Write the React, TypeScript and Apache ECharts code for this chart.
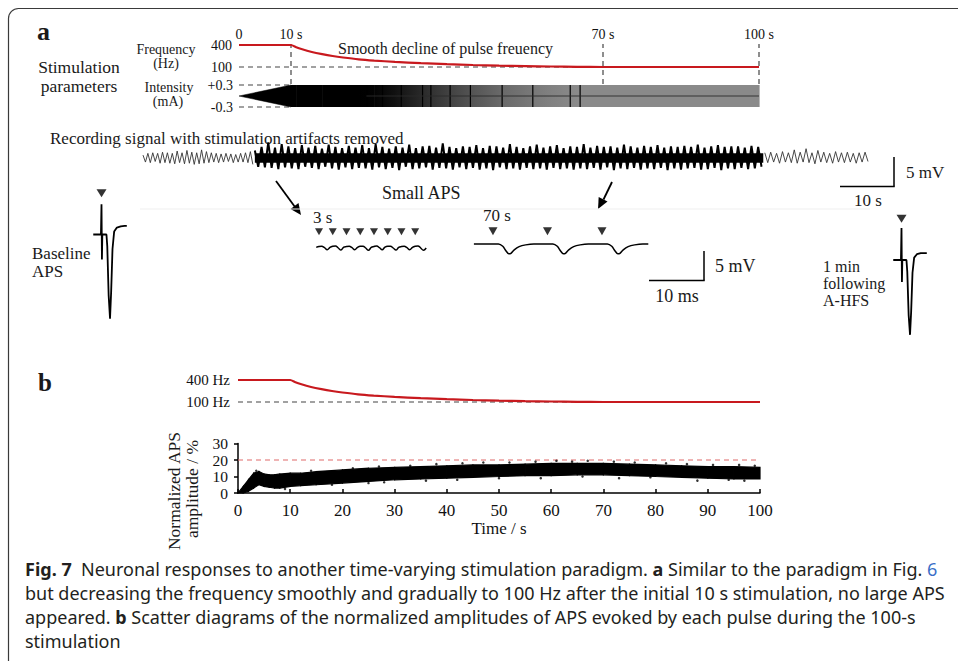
import React, { useEffect, useRef } from 'react';
import * as echarts from 'echarts';

// ---------- data ----------
// stimulation frequency profile (s, Hz)
const freqT = [0, 10, 11, 12, 14, 16, 18, 20, 23, 26, 30, 35, 40, 45, 50, 55, 60, 65, 70, 80, 90, 100];
const freqHz = [400, 400, 370, 345, 305, 275, 250, 230, 205, 188, 170, 152, 138, 127, 118, 112, 107, 103, 100, 100, 100, 100];
const guideT = [10, 70, 100];
const intensityRampT = [0, 10];
const intensityRampA = [0, 0.3];
const intensityAmp = 0.3;
const stripeT = [24.6, 27.6, 31.2, 35.3, 36.9, 40.6, 44.5, 50.6, 56.5, 63.7, 65.6];
const intensityMidT = [24.5, 100];

// recording signal (mV), sampled at half-cycle peaks
const preStart = -22;
const preStep = 0.48;
const preSignal = [0.5, -0.7, 0.8, -0.8, 0.9, -0.6, 0.8, -0.9, 1.0, -0.8, 0.9, -0.9, 0.8, -1.0, 1.2, -0.8, 0.9, -1.0, 1.3, -0.9, 1.0, -1.1, 0.9, -1.0, 1.4, -0.9, 1.1, -0.8, 0.9, -0.7, 0.8, -0.8, 0.7, -0.7, 0.8, -0.6, 0.7, -0.8, 0.6, -0.7, 0.8, -0.7, 0.9, -0.8, 1.1, -1.1];
const stimStep = 0.66;
const stimDuration = 100;
const stimCoreHalf = 0.8;
const stimSignal = [
  1.3, -1.5, 1.9, -1.6, 2.7, -1.7, 1.8, -1.9, 2.4, -1.6, 2.0, -1.8, 1.7, -1.9, 2.2, -1.5,
  1.8, -1.7, 2.1, -1.9, 1.6, -1.5, 2.3, -1.8, 1.9, -2.0, 1.7, -1.6, 2.1, -1.9, 1.8, -1.7,
  2.2, -1.8, 1.7, -2.0, 2.4, -1.6, 1.9, -1.9, 1.6, -1.7, 2.0, -2.1, 1.8, -1.5, 2.3, -1.9,
  1.7, -1.8, 2.0, -1.6, 2.1, -2.0, 1.8, -1.7, 2.5, -1.8, 1.9, -2.0, 1.7, -1.6, 2.0, -1.9,
  1.9, -1.7, 2.2, -2.0, 1.7, -1.8, 2.1, -2.1, 2.0, -1.6, 1.8, -1.9, 2.4, -1.8, 1.9, -2.0,
  1.7, -1.7, 2.0, -1.9, 2.3, -1.8, 1.8, -2.0, 2.0, -1.7, 2.2, -1.9, 1.7, -1.8, 2.0, -2.0,
  1.9, -1.8, 2.4, -1.9, 1.8, -1.7, 2.1, -2.0, 1.9, -1.6, 2.0, -2.1, 1.8, -1.8, 2.3, -1.9,
  2.0, -1.7, 1.8, -2.0, 2.1, -1.8, 1.9, -1.9, 2.2, -1.7, 1.8, -2.1, 2.0, -1.8, 1.9, -2.0,
  2.1, -1.8, 1.9, -1.7, 2.3, -2.0, 1.8, -1.9, 2.0, -1.7, 2.2, -2.1, 1.9, -1.8, 2.0, -1.9,
  2.0, -1.7, 1.8, -1.9, 2.1, -1.8, 1.9, -1.5,
];
const postStart = 100.3;
const postStep = 0.58;
const postSignal = [0.9, -0.8, 1.0, -0.7, 0.8, -0.9, 1.1, -0.7, 0.9, -0.8, 1.4, -0.9, 1.0, -0.7, 1.6, -0.8, 0.9, -1.0, 1.3, -0.7, 1.0, -0.8, 0.8, -0.9, 1.1, -0.7, 0.9, -0.8, 1.0, -0.7, 0.8, -0.9, 0.9, -0.7, 1.0, -0.6];

// evoked traces (ms, mV)
const baseT = [-1.5, -0.1, 0, 0.08, 0.15, 0.9, 1.05, 1.3, 1.55, 1.75, 2.0, 2.3, 2.8, 3.5, 4.2, 4.6];
const baseV = [0, 0, 5.2, -4.3, 0, 0, -2.0, -10.5, -14.5, -10.0, -2.5, 0.5, 1.2, 1.4, 1.5, 1.5];
const postHfsT = [-1.5, -0.1, 0, 0.08, 0.15, 0.9, 1.05, 1.3, 1.55, 1.75, 2.0, 2.3, 2.8, 3.5, 4.2, 4.6];
const postHfsV = [0, 0, 5.5, -3.8, 0, 0, -2.0, -9.5, -12.9, -9.0, -2.2, 0.4, 1.0, 1.2, 1.2, 1.2];
const stim3sT = [0, 2.5, 5, 7.5, 10, 12.5, 15, 17.5];
const trace3sStart = -0.5;
const trace3sStep = 0.5;
const trace3sV = [0.1,
  0.25, 0.3, 0.05, -0.3, 0.1,
  0.3, 0.35, 0.0, -0.35, 0.15,
  0.25, 0.3, 0.05, -0.3, 0.1,
  0.3, 0.3, 0.0, -0.4, 0.1,
  0.25, 0.35, 0.05, -0.3, 0.15,
  0.3, 0.3, 0.0, -0.35, 0.1,
  0.25, 0.3, 0.05, -0.3, 0.1,
  0.3, 0.35, 0.0, -0.4, 0.0];
const stim70T = [0, 10, 20];
const trace70T = [-3.5, 1.0, 1.8, 2.4, 2.9, 3.3, 3.9, 4.8, 6.0, 7.5, 11.0, 11.8, 12.4, 12.9, 13.3, 13.9, 14.8, 16.0, 17.5, 21.0, 21.8, 22.4, 22.9, 23.3, 23.9, 24.8, 26.0, 27.5, 28.5];
const trace70V = [0, 0, -0.4, -1.2, -1.7, -1.6, -1.0, -0.45, -0.15, 0, 0, -0.4, -1.2, -1.7, -1.6, -1.0, -0.45, -0.15, 0, 0, -0.4, -1.2, -1.7, -1.6, -1.0, -0.45, -0.15, 0, 0];

// panel b: normalized APS amplitude cloud (s, %)
const scatterT = [0, 1, 2, 3, 4, 5, 6, 7, 8, 10, 12, 15, 20, 25, 30, 35, 40, 45, 50, 55, 60, 65, 70, 75, 80, 85, 90, 95, 100];
const scatterLow = [0, 0, 1, 3, 5, 4, 3.5, 3, 3, 4, 4.5, 5, 6, 7, 8, 8.5, 9, 9.5, 10, 10.5, 10.5, 11, 11, 10.5, 10, 9.5, 9, 8.5, 8.5];
const scatterHigh = [0, 4, 8, 12, 13, 11.5, 11, 11, 11.5, 12, 12, 13, 14, 15, 15.5, 16, 16.5, 17, 17, 17.5, 18, 18, 18, 17.5, 17, 16.5, 16, 16, 15.5];
const scatterOutT = [3.5, 9, 14, 18, 22, 25, 27, 28, 33, 36, 38, 42, 43, 47, 50, 52, 57, 58, 61, 64, 66, 67, 72, 73, 76, 79, 82, 86, 88, 91, 94, 96, 97, 99];
const scatterOutV = [13.5, 2.5, 13.5, 5, 15, 6, 16, 6.5, 16.5, 7.5, 17.5, 8, 18, 18.5, 9, 18.5, 19, 9, 19.5, 19, 10, 19.5, 19, 9, 18.5, 9.5, 18, 17.5, 7.5, 17, 8, 17, 7.5, 16.5];
const thresholdPct = 20;
const pctTicks = [0, 10, 20, 30];
const pctLabelsA = [0, 20];
const pctLabelsB = [10, 30];

// ---------- helpers ----------
const F = 'Liberation Serif';
const CAP = 'Noto Sans';
const CAPSIZE = 18;
const RED = '#c8191e';
const TRI = 'path://M0,0L10,0L5,9Z';

const pairs = (xs: number[], ys: number[]) => xs.map((x, i) => [x, ys[i]]);
const sampled = (start: number, step: number, ys: number[]) => ys.map((y, i) => [start + i * step, y]);

const shade = (f: number) => {
  const k = Math.max(0, Math.min(1, (195 - f) / (195 - 103)));
  const g = Math.round(138 * Math.pow(k, 1.6));
  return `rgb(${g},${g},${g})`;
};

const segments: number[][] = [];
for (let i = 0; i < freqT.length - 1; i++) {
  if (freqT[i] >= 10) segments.push([freqT[i], freqT[i + 1], freqHz[i], freqHz[i + 1]]);
}
const bandSegs = scatterT.slice(0, -1).map((t, i) => [t, scatterT[i + 1], scatterLow[i], scatterLow[i + 1], scatterHigh[i], scatterHigh[i + 1]]);

const hx = (gi: number, min: number, max: number) => ({ gridIndex: gi, type: 'value', min, max, show: false });
const dashed = { type: [5, 4], color: '#444', width: 1.2 };

const lineS = (xi: number, data: any[], lineStyle: any, extra: any = {}) => ({
  type: 'line', xAxisIndex: xi, yAxisIndex: xi, data, symbol: 'none', showSymbol: false,
  lineStyle, clip: false, silent: true, animation: false, ...extra,
});

const txt = (text: string, x: number, y: number, size: number, align = 'left', extra: any = {}) => ({
  type: 'text', x, y, silent: true,
  style: {
    text, fill: '#1a1a1a', fontFamily: F, fontSize: size,
    textAlign: align, align, textVerticalAlign: 'middle', verticalAlign: 'middle', ...extra,
  },
});
const ln = (x1: number, y1: number, x2: number, y2: number, w = 1.5, c = '#000') => ({
  type: 'line', silent: true, shape: { x1, y1, x2, y2 }, style: { stroke: c, lineWidth: w },
});
const poly = (points: number[][]) => ({ type: 'polygon', silent: true, shape: { points }, style: { fill: '#000' } });

const capRich = {
  b: { fontWeight: 'bold', fontFamily: CAP, fontSize: CAPSIZE, fill: '#231f20', color: '#231f20' },
  l: { fontFamily: CAP, fontSize: CAPSIZE, fill: '#3a6fc8', color: '#3a6fc8' },
};
const cap = (text: string, y: number) => ({
  type: 'text', x: 25, y, silent: true,
  style: {
    text, fill: '#231f20', fontFamily: CAP, fontSize: CAPSIZE,
    textAlign: 'left', align: 'left', textVerticalAlign: 'middle', verticalAlign: 'middle', rich: capRich,
  },
});

const pctLabel = (vals: number[]) => ({
  margin: 10, fontFamily: F, fontSize: 15.5, color: '#111',
  customValues: vals, showMinLabel: true, showMaxLabel: true, hideOverlap: false,
});

const option: any = {
  animation: false,
  textStyle: { fontFamily: F },
  grid: [
    { left: 239, top: 45, width: 520, height: 22 },
    { left: 239, top: 85, width: 520, height: 22 },
    { left: 239, top: 44, width: 520, height: 40 },
    { left: 143, top: 140, width: 725, height: 36 },
    { left: 90.5, top: 188.1, width: 38.5, height: 136.3 },
    { left: 315.7, top: 227.7, width: 110.5, height: 29 },
    { left: 473.9, top: 226.6, width: 174.4, height: 31.9 },
    { left: 890.5, top: 213.6, width: 38.5, height: 136.3 },
    { left: 238, top: 380, width: 522, height: 22 },
    { left: 238, top: 443.5, width: 522, height: 49.5 },
  ],
  xAxis: [
    {
      gridIndex: 0, type: 'value', min: 0, max: 100, interval: 10, position: 'top',
      axisLine: { show: false }, axisTick: { show: false }, splitLine: { show: false },
      axisLabel: {
        margin: 4, fontFamily: F, fontSize: 14, color: '#111', showMinLabel: true, showMaxLabel: true,
        formatter: (v: number) => (v === 0 ? '0' : v === 10 || v === 70 || v === 100 ? `${v} s` : ''),
      },
    },
    hx(1, 0, 100),
    hx(2, 0, 100),
    hx(3, preStart, postStart + postStep * (postSignal.length - 1)),
    hx(4, -2, 5),
    hx(5, -0.6, 19.5),
    hx(6, -3.5, 28.5),
    hx(7, -2, 5),
    hx(8, 0, 100),
    {
      gridIndex: 9, type: 'value', min: 0, max: 100, interval: 10,
      axisLine: { show: true, onZero: false, lineStyle: { color: '#000', width: 1.5 } },
      axisTick: { show: true, inside: true, length: 4, lineStyle: { color: '#000', width: 1.5 } },
      splitLine: { show: false },
      axisLabel: { margin: 9, fontFamily: F, fontSize: 17, color: '#111', showMinLabel: true, showMaxLabel: true },
      name: 'Time / s', nameLocation: 'middle', nameGap: 26,
      nameTextStyle: { fontFamily: F, fontSize: 17, color: '#111' },
    },
  ],
  yAxis: [
    {
      gridIndex: 0, type: 'value', min: 100, max: 400, interval: 100,
      axisLine: { show: false }, axisTick: { show: false }, splitLine: { show: false },
      axisLabel: { margin: 7, fontFamily: F, fontSize: 14, color: '#111', showMinLabel: true, showMaxLabel: true, formatter: (v: number) => (v === 100 || v === 400 ? String(v) : '') },
    },
    {
      gridIndex: 1, type: 'value', min: -0.3, max: 0.3, interval: 0.3,
      axisLine: { show: false }, axisTick: { show: false }, splitLine: { show: false },
      axisLabel: { margin: 6, fontFamily: F, fontSize: 14, color: '#111', showMinLabel: true, showMaxLabel: true, formatter: (v: number) => (v > 0.1 ? '+0.3' : v < -0.1 ? '-0.3' : '') },
    },
    { gridIndex: 2, type: 'value', min: 0, max: 1, show: false },
    { gridIndex: 3, type: 'value', min: -3.1, max: 3.1, show: false },
    { gridIndex: 4, type: 'value', min: -15.5, max: 8, show: false },
    { gridIndex: 5, type: 'value', min: -1.5, max: 3.5, show: false },
    { gridIndex: 6, type: 'value', min: -2.5, max: 3, show: false },
    { gridIndex: 7, type: 'value', min: -15.5, max: 8, show: false },
    {
      gridIndex: 8, type: 'value', min: 100, max: 400, interval: 100,
      axisLine: { show: false }, axisTick: { show: false }, splitLine: { show: false },
      axisLabel: { margin: 8, fontFamily: F, fontSize: 15, color: '#111', showMinLabel: true, showMaxLabel: true, formatter: (v: number) => (v === 100 || v === 400 ? `${v} Hz` : '') },
    },
    {
      gridIndex: 9, type: 'value', min: 0, max: 30, interval: 10, position: 'left',
      axisLine: { show: true, onZero: false, lineStyle: { color: '#000', width: 1.5 } },
      axisTick: { show: true, inside: false, length: 4, customValues: pctTicks, lineStyle: { color: '#000', width: 1.5 } },
      splitLine: { show: false },
      axisLabel: pctLabel(pctLabelsA),
    },
    {
      gridIndex: 9, type: 'value', min: 0, max: 30, interval: 10, position: 'left', offset: 0,
      axisLine: { show: false }, axisTick: { show: false }, splitLine: { show: false },
      axisLabel: pctLabel(pctLabelsB),
    },
  ],
  series: [
    // panel a: frequency
    lineS(0, [[0, 100], [100, 100]], dashed, { z: 1 }),
    lineS(0, pairs(freqT, freqHz), { color: RED, width: 2.2 }, { smooth: 0.2, z: 3 }),
    // panel a: intensity
    lineS(1, [[0, intensityAmp], [10, intensityAmp]], dashed, { z: 1 }),
    lineS(1, [[0, -intensityAmp], [10, -intensityAmp]], dashed, { z: 1 }),
    lineS(1, pairs(intensityRampT, intensityRampA), { color: '#000', width: 0.5 }, { areaStyle: { color: '#000', opacity: 1 }, z: 2 }),
    lineS(1, pairs(intensityRampT, intensityRampA.map((a) => -a)), { color: '#000', width: 0.5 }, { areaStyle: { color: '#000', opacity: 1 }, z: 2 }),
    {
      type: 'custom', xAxisIndex: 1, yAxisIndex: 1, data: segments, encode: { x: 0, y: 2 }, silent: true, z: 2,
      renderItem: (_p: any, api: any) => {
        const a = api.coord([api.value(0), intensityAmp]);
        const b = api.coord([api.value(1), -intensityAmp]);
        return {
          type: 'rect',
          shape: { x: a[0], y: a[1], width: b[0] - a[0] + 0.6, height: b[1] - a[1] },
          style: {
            fill: new echarts.graphic.LinearGradient(0, 0, 1, 0, [
              { offset: 0, color: shade(api.value(2)) },
              { offset: 1, color: shade(api.value(3)) },
            ]),
          },
        };
      },
    },
    {
      type: 'custom', xAxisIndex: 1, yAxisIndex: 1, data: stripeT.map((t) => [t, 0]), silent: true, z: 3,
      renderItem: (_p: any, api: any) => {
        const a = api.coord([api.value(0), intensityAmp]);
        const b = api.coord([api.value(0), -intensityAmp]);
        return { type: 'line', shape: { x1: a[0], y1: a[1], x2: b[0], y2: b[1] }, style: { stroke: '#000', lineWidth: 1.2 } };
      },
    },
    lineS(1, intensityMidT.map((t) => [t, 0]), { color: '#2a2a2a', width: 0.9 }, { z: 4 }),
    // guides
    ...guideT.map((t) => lineS(2, [[t, 0], [t, 1]], dashed, { z: 1 })),
    // recording signal
    lineS(3, sampled(preStart, preStep, preSignal), { color: '#333', width: 0.9 }),
    {
      type: 'custom', xAxisIndex: 3, yAxisIndex: 3, data: [[0, stimDuration]], silent: true, z: 2,
      renderItem: (_p: any, api: any) => {
        const a = api.coord([api.value(0), stimCoreHalf]);
        const b = api.coord([api.value(1), -stimCoreHalf]);
        return { type: 'rect', shape: { x: a[0], y: a[1], width: b[0] - a[0], height: b[1] - a[1] }, style: { fill: '#000' } };
      },
    },
    lineS(3, sampled(0, stimStep, stimSignal), { color: '#000', width: 2.0 }),
    lineS(3, sampled(postStart, postStep, postSignal), { color: '#333', width: 0.9 }),
    // baseline APS
    lineS(4, pairs(baseT, baseV), { color: '#000', width: 1.8 }),
    { type: 'scatter', xAxisIndex: 4, yAxisIndex: 4, data: [[0, 7.1]], symbol: TRI, symbolSize: [10, 8], itemStyle: { color: '#000' }, silent: true, clip: false },
    // 3 s
    lineS(5, sampled(trace3sStart, trace3sStep, trace3sV), { color: '#000', width: 1.5 }, { smooth: 0.4 }),
    { type: 'scatter', xAxisIndex: 5, yAxisIndex: 5, data: stim3sT.map((t) => [t, 2.8]), symbol: TRI, symbolSize: [8, 7], itemStyle: { color: '#000' }, silent: true, clip: false },
    // 70 s
    lineS(6, pairs(trace70T, trace70V), { color: '#000', width: 1.5 }, { smooth: 0.3 }),
    { type: 'scatter', xAxisIndex: 6, yAxisIndex: 6, data: stim70T.map((t) => [t, 2.2]), symbol: TRI, symbolSize: [9, 8], itemStyle: { color: '#000' }, silent: true, clip: false },
    // 1 min following A-HFS
    lineS(7, pairs(postHfsT, postHfsV), { color: '#000', width: 1.8 }),
    { type: 'scatter', xAxisIndex: 7, yAxisIndex: 7, data: [[0, 7.1]], symbol: TRI, symbolSize: [10, 8], itemStyle: { color: '#000' }, silent: true, clip: false },
    // panel b: frequency
    lineS(8, [[0, 100], [100, 100]], dashed, { z: 1 }),
    lineS(8, pairs(freqT, freqHz), { color: RED, width: 2.2 }, { smooth: 0.2, z: 3 }),
    // panel b: APS cloud
    lineS(9, [[0, thresholdPct], [100, thresholdPct]], { type: [5, 4], color: '#e06b6b', width: 1.2 }, { z: 1 }),
    {
      type: 'custom', xAxisIndex: 9, yAxisIndex: 9, data: bandSegs, encode: { x: 0, y: 2 }, silent: true, z: 2,
      renderItem: (_p: any, api: any) => {
        const t0 = api.value(0), t1 = api.value(1);
        const pts = [
          api.coord([t0, api.value(2)]), api.coord([t1, api.value(3)]),
          api.coord([t1, api.value(5)]), api.coord([t0, api.value(4)]),
        ];
        return { type: 'polygon', shape: { points: pts }, style: { fill: '#000', stroke: '#000', lineWidth: 1.2 } };
      },
    },
    { type: 'scatter', xAxisIndex: 9, yAxisIndex: 9, data: pairs(scatterOutT, scatterOutV), symbolSize: 2.5, itemStyle: { color: '#000' }, silent: true },
  ],
  graphic: [
    { type: 'rect', silent: true, shape: { x: 8.5, y: 8.5, width: 1000, height: 700, r: 10 }, style: { fill: 'transparent', stroke: '#3a3a3a', lineWidth: 1.2 } },
    txt('a', 37, 31, 26, 'left', { fontWeight: 'bold' }),
    txt('Stimulation', 79, 67, 17.5, 'center'),
    txt('parameters', 79, 86, 17.5, 'center'),
    txt('Frequency', 166, 49, 14, 'center'),
    txt('(Hz)', 166, 63, 14, 'center'),
    txt('Intensity', 169, 87, 14, 'center'),
    txt('(mA)', 168, 101, 14, 'center'),
    txt('Smooth decline of pulse freuency', 338, 48, 16),
    txt('Recording signal with stimulation artifacts removed', 50, 138, 17),
    ln(894, 157, 894, 186.5), ln(840, 186.5, 894.7, 186.5),
    txt('5 mV', 906, 172, 17),
    txt('10 s', 868, 200, 17, 'center'),
    ln(276, 181, 295, 207, 1.8), poly([[301, 215], [290.5, 209.1], [298.5, 203.1]]),
    ln(612, 182, 603.5, 199.5, 1.8), poly([[598, 209], [598.7, 196.9], [607.5, 201.5]]),
    ln(140, 209, 870, 209, 1, '#efefef'),
    txt('Small APS', 382, 193, 18),
    txt('3 s', 313, 217, 17),
    txt('70 s', 483, 215, 17),
    txt('Baseline', 32, 253, 17),
    txt('APS', 32, 271, 17),
    ln(704, 251, 704, 280.5), ln(649, 280.5, 704.7, 280.5),
    txt('5 mV', 715, 266, 18),
    txt('10 ms', 677, 296, 18, 'center'),
    txt('1 min', 823, 266, 16),
    txt('following', 823, 283, 16),
    txt('A-HFS', 823, 300, 16),
    txt('b', 38, 382, 25, 'left', { fontWeight: 'bold' }),
    { ...txt('Normalized APS', 174, 491, 17.5, 'center'), rotation: Math.PI / 2 },
    { ...txt('amplitude / %', 192, 489, 17.5, 'center'), rotation: Math.PI / 2 },
    cap('{b|Fig. 7}  Neuronal responses to another time-varying stimulation paradigm. {b|a} Similar to the paradigm in Fig. {l|6}', 569),
    cap('but decreasing the frequency smoothly and gradually to 100 Hz after the initial 10 s stimulation, no large APS', 593),
    cap('appeared. {b|b} Scatter diagrams of the normalized amplitudes of APS evoked by each pulse during the 100-s', 617),
    cap('stimulation', 641),
  ],
};

export default function App() {
  const ref = useRef<HTMLDivElement>(null);
  useEffect(() => {
    const chart = echarts.init(ref.current!, null, { renderer: 'svg' });
    chart.setOption(option);
    return () => chart.dispose();
  }, []);
  return (
    <div
      ref={ref}
      style={{ position: 'fixed', left: 0, top: 0, width: 958, height: 661, background: '#fff' }}
    />
  );
}
